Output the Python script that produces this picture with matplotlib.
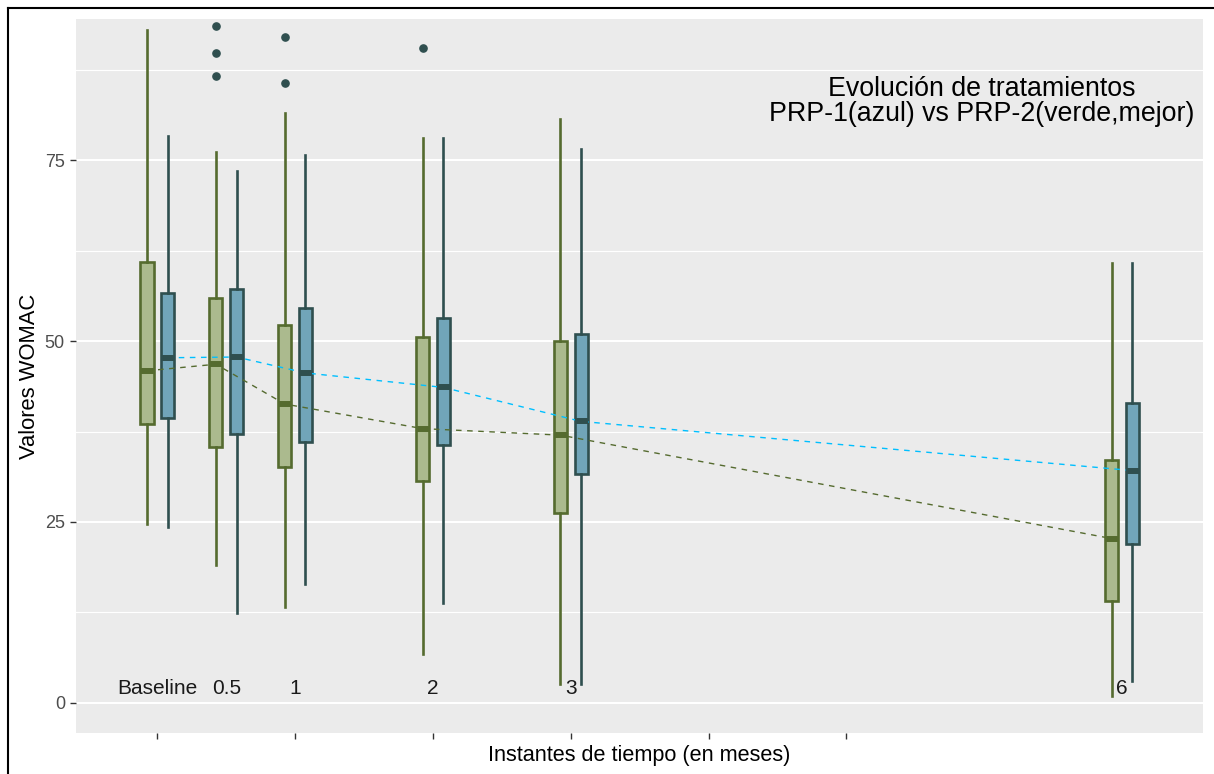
import matplotlib
matplotlib.use("Agg")
import matplotlib.pyplot as plt
from matplotlib.lines import Line2D

plt.rcParams['font.family'] = ['Liberation Sans', 'DejaVu Sans']

# ---------------- data ----------------
time_labels = ["Baseline", "0.5", "1", "2", "3", "6"]
time_x = [0, 0.5, 1, 2, 3, 7]          # x value on the continuous time axis

# PRP-2 (green)
g_whislo = [24.7, 19.0, 13.2, 6.7, 2.6, 0.9]
g_q1     = [38.6, 35.3, 32.6, 30.7, 26.3, 14.1]
g_med    = [45.9, 46.8, 41.3, 37.9, 37.0, 22.7]
g_q3     = [61.0, 56.0, 52.2, 50.6, 50.0, 33.6]
g_whishi = [93.0, 76.2, 81.6, 78.1, 80.7, 60.8]
g_fliers = [[], [93.6, 89.9, 86.7], [92.1, 85.7], [90.5], [], []]

# PRP-1 (blue)
b_whislo = [24.3, 12.4, 16.4, 13.8, 2.6, 3.0]
b_q1     = [39.3, 37.2, 36.0, 35.6, 31.6, 22.0]
b_med    = [47.7, 47.8, 45.6, 43.6, 38.9, 32.1]
b_q3     = [56.7, 57.2, 54.6, 53.2, 51.0, 41.5]
b_whishi = [78.4, 73.5, 75.8, 78.1, 76.6, 60.8]
b_fliers = [[], [], [], [], [], []]

y_major = [0, 25, 50, 75]
y_minor = [12.5, 37.5, 62.5, 87.5]
x_ticks = [0, 1, 2, 3, 4, 5]

title_lines = ["Evolución de tratamientos", "PRP-1(azul) vs PRP-2(verde,mejor)"]
xlabel = "Instantes de tiempo (en meses)"
ylabel = "Valores WOMAC"

# ---------------- style ----------------
G_EDGE, G_FACE = '#556B2F', '#ABBA8E'
B_EDGE, B_FACE = '#2F4F4F', '#71A5B9'
G_LINE, B_LINE = '#556B2F', '#00BFFF'
DODGE, WIDTH = 0.075, 0.095

W, H, DPI = 1214, 774, 100
fig = plt.figure(figsize=(W / DPI, H / DPI), dpi=DPI)
L, R, T, B = 76, 1203.3, 19, 733.3
ax = fig.add_axes([L / W, 1 - B / H, (R - L) / W, (B - T) / H])
ax.set_facecolor('#EBEBEB')
for s in ax.spines.values():
    s.set_visible(False)


def stats(lo, q1, med, q3, hi, fl):
    return [dict(whislo=a, q1=b, med=c, q3=d, whishi=e, fliers=f)
            for a, b, c, d, e, f in zip(lo, q1, med, q3, hi, fl)]


def draw(st, pos, edge, face, z):
    res = ax.bxp(st, positions=pos, widths=WIDTH, patch_artist=True,
                 showcaps=False, manage_ticks=False,
                 boxprops=dict(facecolor=face, edgecolor=edge, linewidth=1.9),
                 whiskerprops=dict(color=edge, linewidth=1.9),
                 medianprops=dict(color=edge, linewidth=4.3, solid_capstyle='butt'),
                 flierprops=dict(marker='o', markerfacecolor='#2F4F4F',
                                 markeredgecolor='#2F4F4F', markersize=5.2))
    for k in ('boxes', 'whiskers'):
        for a in res[k]:
            a.set_zorder(z)
    for a in res['medians']:
        a.set_zorder(6)
    for a in res['fliers']:
        a.set_zorder(7)
    return res


g_pos = [x - DODGE for x in time_x]
b_pos = [x + DODGE for x in time_x]

draw(stats(b_whislo, b_q1, b_med, b_q3, b_whishi, b_fliers), b_pos, B_EDGE, B_FACE, 2)
ax.plot(g_pos, g_med, color=G_LINE, lw=1.0, dashes=(4, 4), zorder=3)
draw(stats(g_whislo, g_q1, g_med, g_q3, g_whishi, g_fliers), g_pos, G_EDGE, G_FACE, 4)
ax.plot(b_pos, b_med, color=B_LINE, lw=1.0, dashes=(4, 4), zorder=5)

# grid
ax.set_yticks(y_major)
ax.set_yticks(y_minor, minor=True)
ax.grid(which='major', axis='y', color='white', lw=1.5, zorder=0)
ax.grid(which='minor', axis='y', color='white', lw=0.8, zorder=0)
ax.set_axisbelow(True)
ax.tick_params(axis='y', which='minor', length=0)

ax.set_xticks(x_ticks)
ax.set_xticklabels([])
ax.tick_params(axis='both', which='major', length=4.5, width=1.0, color='#333333',
               labelsize=13, labelcolor='#4D4D4D', pad=3.5)

ax.set_xlim(-0.59, 7.59)
ax.set_ylim(-4.23, 94.54)

# time labels inside panel
for x, lab in zip(time_x, time_labels):
    ax.text(x, 2, lab, ha='center', va='center', fontsize=15, color='#1A1A1A', zorder=8)

# title inside panel
ax.text(5.983, 83.9, title_lines[0], ha='center', va='baseline', fontsize=19.3, color='black')
ax.text(5.983, 80.4, title_lines[1], ha='center', va='baseline', fontsize=19.3, color='black')

ax.set_xlabel(xlabel, fontsize=15.6, color='black')
ax.xaxis.set_label_coords(0.5, (B - 755) / (B - T))
ax.xaxis.label.set_va('center')
ax.set_ylabel(ylabel, fontsize=15.8, color='black')
ax.yaxis.set_label_coords((30 - L) / (R - L), 0.5)
ax.yaxis.label.set_va('center')

# outer frame (left and top edges)
fig.add_artist(Line2D([7.5 / W, 7.5 / W], [0, 1 - 7.5 / H], color='black', lw=1.5,
                      transform=fig.transFigure))
fig.add_artist(Line2D([7.5 / W, 1], [1 - 7.5 / H, 1 - 7.5 / H], color='black', lw=1.5,
                      transform=fig.transFigure))

fig.savefig('out.png', dpi=DPI, facecolor='white')
